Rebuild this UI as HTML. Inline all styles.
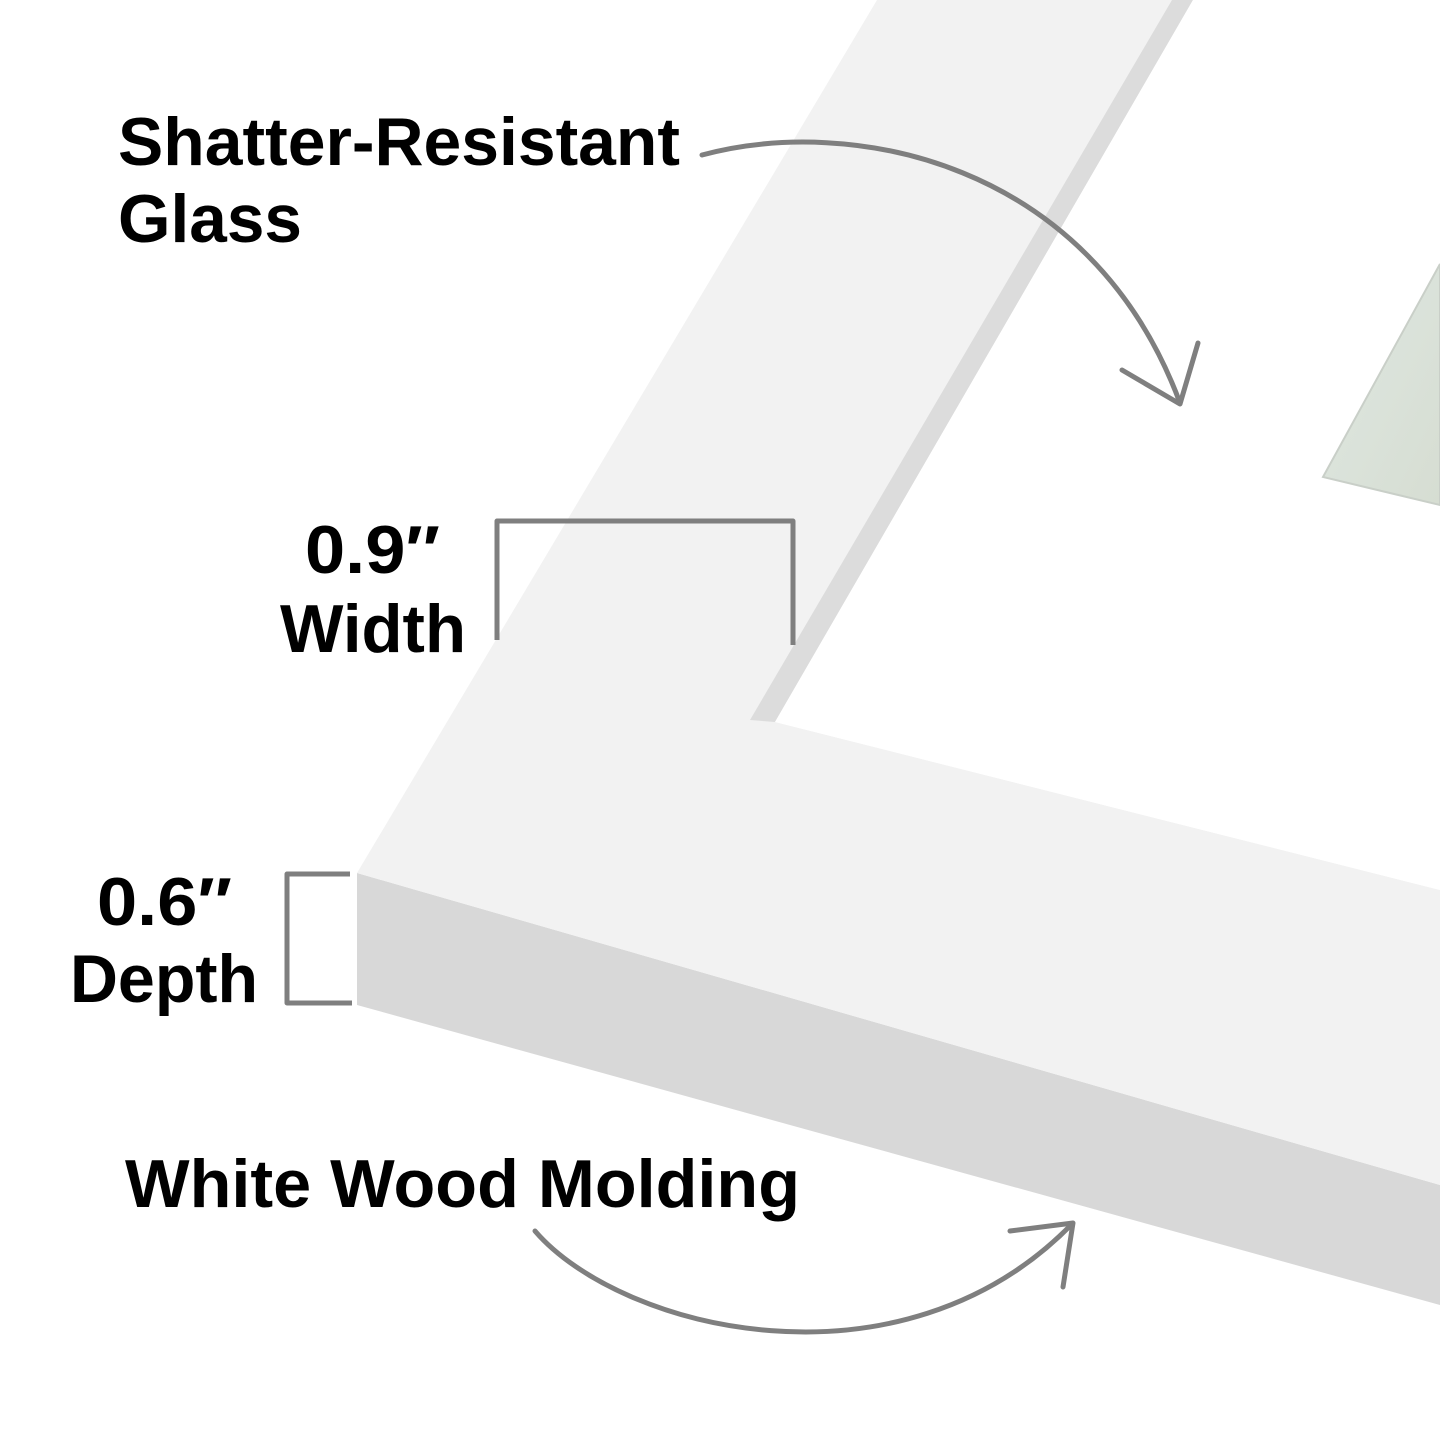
<!DOCTYPE html>
<html><head><meta charset="utf-8"><style>
html,body{margin:0;padding:0;background:#fff;}
svg{display:block;}
text{font-family:"Liberation Sans",sans-serif;font-weight:bold;fill:#000;}
</style></head><body>
<svg width="1440" height="1440" viewBox="0 0 1440 1440" xmlns="http://www.w3.org/2000/svg">
<defs>
<linearGradient id="ph" x1="0" y1="0" x2="1" y2="1">
<stop offset="0" stop-color="#dfe8e2"/><stop offset="1" stop-color="#d6ddd2"/>
</linearGradient>
</defs>
<!-- side face -->
<polygon points="357,873 1440,1185 1440,1305 357,1005" fill="#d8d8d8"/>
<!-- top face -->
<polygon points="877,0 1193,0 775,722 1440,890 1440,1185 357,873" fill="#f2f2f2"/>
<!-- bevel -->
<polygon points="1172,0 1193,0 775,722 750,720" fill="#dcdcdc"/>
<!-- inner mat -->
<polygon points="1193,0 1440,0 1440,890 775,722" fill="#ffffff"/>
<!-- photo -->
<polygon points="1323,477 1440,264 1440,505" fill="url(#ph)" stroke="#c9cfc8" stroke-width="2"/>

<g fill="none" stroke="#7f7f7f" stroke-width="5" stroke-linecap="round" stroke-linejoin="round">
<path d="M702,155 C850,115 1090,160 1180,403"/>
<path d="M1122,370 L1180,404 L1198,343"/>
<path d="M497,640 L497,521 L793,521 L793,645" stroke-linecap="butt"/>
<path d="M350,874 L287,874 L287,1003 L352,1003" stroke-linecap="butt"/>
<path d="M535,1231 C620,1330 900,1400 1072,1224"/>
<path d="M1010,1231 L1073,1223 L1063,1287"/>
</g>

<text x="118" y="165" font-size="68" textLength="562" lengthAdjust="spacingAndGlyphs">Shatter-Resistant</text>
<text x="118" y="242" font-size="68" textLength="184" lengthAdjust="spacingAndGlyphs">Glass</text>
<text x="305" y="573" font-size="68" textLength="135" lengthAdjust="spacingAndGlyphs">0.9″</text>
<text x="280" y="652" font-size="68" textLength="186" lengthAdjust="spacingAndGlyphs">Width</text>
<text x="97" y="925" font-size="68" textLength="135" lengthAdjust="spacingAndGlyphs">0.6″</text>
<text x="70" y="1002" font-size="68" textLength="188" lengthAdjust="spacingAndGlyphs">Depth</text>
<text x="125" y="1207" font-size="68" textLength="675" lengthAdjust="spacingAndGlyphs">White Wood Molding</text>
</svg>
</body></html>
